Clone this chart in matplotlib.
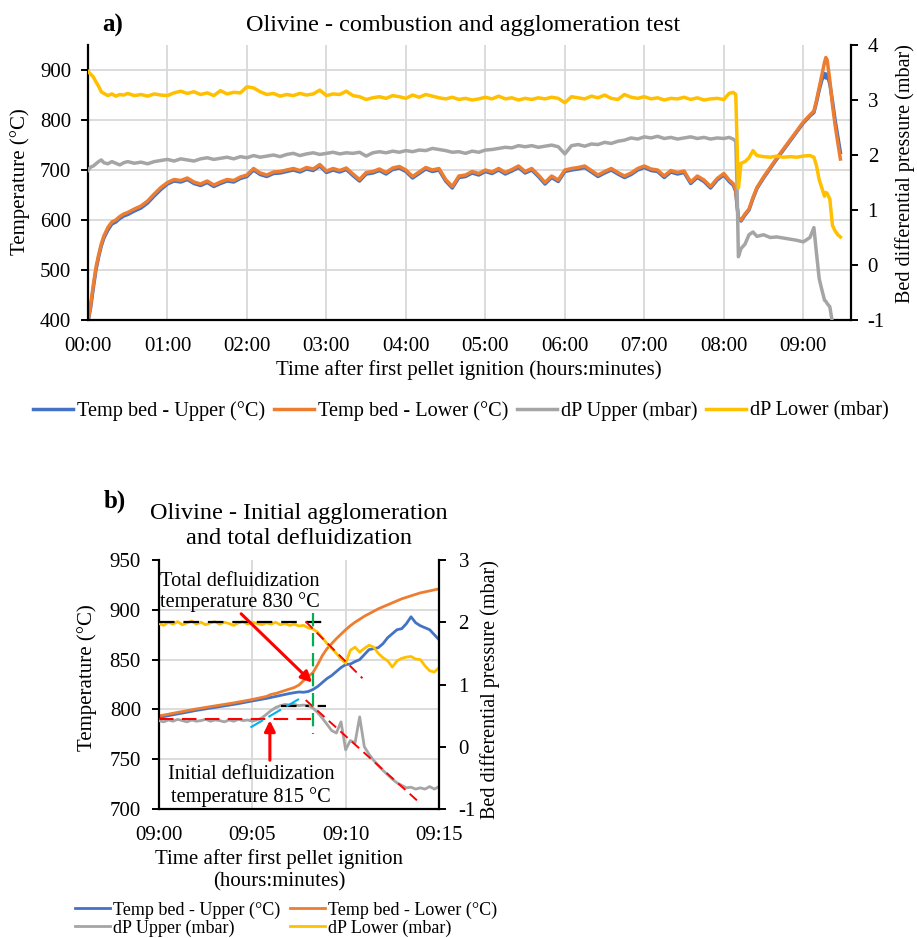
import numpy as np
import matplotlib.pyplot as plt

plt.rcParams['font.family'] = ['Liberation Serif', 'DejaVu Serif']
plt.rcParams['axes.unicode_minus'] = False

# ---------------- panel a: whole test (time in minutes after ignition) ----------------
t_a = [0, 2, 4, 6, 8, 10, 12, 15, 18, 21, 24, 27,
       30, 35, 40, 45, 50, 55, 60, 65, 70, 75, 80, 85, 90,
       95, 100, 105, 110, 115, 120, 125, 130, 135, 140, 145, 150, 155,
       160, 165, 170, 175, 180, 185, 190, 195, 200, 205, 210, 215, 220,
       225, 230, 235, 240, 245, 250, 255, 260, 265, 270, 275, 280, 285,
       290, 295, 300, 305, 310, 315, 320, 325, 330, 335, 340, 345, 350,
       355, 360, 365, 370, 375, 380, 385, 390, 395, 400, 405, 410, 415,
       420, 425, 430, 435, 440, 445, 450, 455, 460, 465, 470, 475, 480,
       484, 487, 489, 490, 491, 493, 496, 499, 502, 505,
       510, 515, 520, 525, 530, 535, 540, 545,
       548, 550, 552, 554, 556, 557, 558, 560, 562, 564, 566, 568]

temp_upper_a = [396, 425, 464, 500, 526, 548, 564, 580, 592, 596, 603, 608,
                611, 618, 624, 634, 648, 661, 672, 678, 676, 681, 673, 669, 675,
                667, 673, 678, 676, 683, 687, 700, 691, 687, 693, 694, 697, 700,
                696, 702, 699, 708, 695, 700, 696, 701, 689, 678, 692, 694, 699,
                692, 701, 704, 697, 684, 693, 702, 697, 700, 678, 664, 685, 687,
                694, 690, 697, 693, 700, 692, 698, 705, 694, 700, 687, 672, 685,
                677, 697, 700, 702, 705, 696, 687, 694, 700, 692, 685, 691, 700,
                705, 699, 697, 685, 696, 692, 695, 673, 685, 677, 664, 680, 690,
                677, 670, 657, 628, 603, 598, 610, 620, 643, 663,
                684, 703, 722, 740, 758, 776, 794, 808,
                815, 836, 860, 880, 893, 884, 892, 872, 838, 800, 768, 735]

temp_lower_a = [398, 430, 470, 505, 530, 552, 568, 585, 596, 600, 607, 612,
                615, 622, 628, 638, 652, 665, 675, 681, 679, 684, 676, 672, 678,
                670, 676, 681, 679, 686, 690, 703, 694, 690, 696, 697, 700, 703,
                699, 705, 702, 711, 698, 703, 699, 704, 692, 681, 695, 697, 702,
                695, 704, 707, 700, 687, 696, 705, 700, 703, 681, 667, 688, 690,
                697, 693, 700, 696, 703, 695, 701, 708, 697, 703, 690, 675, 688,
                680, 700, 703, 705, 708, 699, 690, 697, 703, 695, 688, 694, 703,
                708, 702, 700, 688, 699, 695, 698, 676, 688, 680, 667, 683, 693,
                680, 673, 660, 630, 605, 600, 612, 622, 645, 665,
                686, 705, 724, 742, 760, 778, 796, 810,
                818, 840, 865, 890, 915, 925, 920, 880, 830, 790, 755, 722]

dp_upper_a = [1.72, 1.78, 1.80, 1.84, 1.88, 1.91, 1.86, 1.84, 1.88, 1.85, 1.82, 1.86,
              1.88, 1.85, 1.87, 1.84, 1.88, 1.90, 1.92, 1.89, 1.93, 1.91, 1.89, 1.93, 1.95,
              1.92, 1.94, 1.96, 1.93, 1.97, 1.95, 1.99, 1.96, 1.98, 2.00, 1.97, 2.01, 2.03,
              1.99, 2.02, 2.04, 2.01, 2.03, 2.05, 2.02, 2.04, 2.03, 2.05, 1.98, 2.04, 2.06,
              2.04, 2.07, 2.05, 2.08, 2.06, 2.09, 2.08, 2.12, 2.10, 2.08, 2.05, 2.06, 2.03,
              2.07, 2.05, 2.09, 2.10, 2.12, 2.14, 2.13, 2.17, 2.15, 2.17, 2.14, 2.16, 2.18,
              2.15, 2.02, 2.17, 2.19, 2.16, 2.20, 2.19, 2.23, 2.21, 2.25, 2.27, 2.31, 2.29,
              2.33, 2.31, 2.34, 2.30, 2.32, 2.29, 2.31, 2.33, 2.30, 2.32, 2.29, 2.31, 2.30,
              2.32, 2.29, 2.25, 1.40, 0.15, 0.30, 0.38, 0.55, 0.60, 0.52,
              0.55, 0.50, 0.51, 0.49, 0.47, 0.45, 0.42, 0.50,
              0.68, 0.20, -0.25, -0.45, -0.64, -0.66, -0.70, -0.76, -1.05, -1.30, np.nan, np.nan]

dp_lower_a = [3.52, 3.47, 3.42, 3.33, 3.25, 3.15, 3.12, 3.08, 3.11, 3.07, 3.10, 3.09,
              3.12, 3.08, 3.10, 3.07, 3.11, 3.09, 3.08, 3.13, 3.16, 3.12, 3.15, 3.10, 3.13,
              3.08, 3.17, 3.11, 3.14, 3.13, 3.24, 3.22, 3.15, 3.10, 3.12, 3.07, 3.10, 3.08,
              3.12, 3.09, 3.11, 3.18, 3.08, 3.11, 3.10, 3.16, 3.08, 3.06, 3.01, 3.04, 3.06,
              3.03, 3.08, 3.06, 3.03, 3.09, 3.05, 3.10, 3.07, 3.04, 3.02, 3.05, 3.01, 3.03,
              3.00, 3.02, 3.05, 3.02, 3.07, 3.02, 3.04, 3.00, 3.03, 3.01, 3.04, 3.02, 3.05,
              3.03, 2.95, 3.06, 3.04, 3.02, 3.07, 3.04, 3.09, 3.03, 3.01, 3.10, 3.05, 3.03,
              3.06, 3.02, 3.04, 3.00, 3.03, 3.02, 3.05, 3.01, 3.04, 3.00, 3.02, 3.03, 3.01,
              3.12, 3.14, 3.10, 2.20, 1.40, 1.85, 1.88, 1.95, 2.08, 1.99,
              1.97, 1.96, 1.98, 1.96, 1.97, 1.96, 1.98, 1.99,
              1.96, 1.80, 1.55, 1.40, 1.25, 1.32, 1.30, 1.20, 0.72, 0.62, 0.55, 0.51]

hour_ticks = [0, 60, 120, 180, 240, 300, 360, 420, 480, 540]
hour_labels = ['00:00', '01:00', '02:00', '03:00', '04:00',
               '05:00', '06:00', '07:00', '08:00', '09:00']

# ---------------- panel b: zoom 09:00-09:15 (minutes after 09:00) ----------------
t_b = [0, 0.25, 0.5, 0.75, 1, 1.25, 1.5, 1.75, 2, 2.25, 2.5, 2.75,
       3, 3.25, 3.5, 3.75, 4, 4.25, 4.5, 4.75, 5, 5.25, 5.5, 5.75,
       6, 6.25, 6.5, 6.75, 7, 7.25, 7.5, 7.75, 8, 8.25, 8.5, 8.75,
       9, 9.25, 9.5, 9.75, 10, 10.25, 10.5, 10.75, 11, 11.25, 11.5, 11.75,
       12, 12.25, 12.5, 12.75, 13, 13.25, 13.5, 13.75, 14, 14.25, 14.5, 14.75,
       15]

temp_upper_b = [792.0, 792.8, 793.7, 794.6, 795.5, 796.3, 797.2, 798.1, 799.0, 799.7, 800.5, 801.3,
                802.0, 802.8, 803.5, 804.3, 805.0, 805.8, 806.7, 807.6, 808.5, 809.3, 810.2, 811.0,
                812.0, 813.0, 814.0, 815.0, 816.0, 816.8, 817.5, 817.2, 818.0, 820.0, 823.0, 827.0,
                831, 834, 838, 842, 845, 845.5, 848, 850, 855, 860, 861, 862,
                866, 872, 876, 880, 881, 886, 893, 887, 884, 882, 880, 875,
                870]

temp_lower_b = [793.5, 794.3, 795.2, 796.1, 797.0, 797.8, 798.7, 799.6, 800.5, 801.2, 802.0, 802.8,
                803.5, 804.3, 805.0, 805.8, 806.5, 807.4, 808.2, 809.1, 810.0, 811.0, 812.0, 813.0,
                815.0, 816.0, 817.5, 819.0, 820.5, 822.0, 824.5, 829.0, 833.0, 837.0, 845.0, 854.0,
                861, 866, 871, 875.5, 880, 884, 887.5, 890.5, 893.5, 896, 898.5, 901,
                903, 905, 907, 909, 911, 912.5, 914, 915.5, 917, 918, 919, 920,
                921]

dp_upper_b = [0.42, 0.40, 0.43, 0.41, 0.44, 0.42, 0.40, 0.43, 0.41, 0.42, 0.44, 0.41,
              0.43, 0.42, 0.40, 0.43, 0.41, 0.44, 0.42, 0.43, 0.41, 0.43, 0.46, 0.52,
              0.58, 0.63, 0.66, 0.68, 0.67, 0.68, 0.66, 0.67, 0.66, 0.62, 0.55, 0.46,
              0.36, 0.26, 0.22, 0.40, -0.05, 0.10, 0.06, 0.48, 0.00, -0.12, -0.22, -0.30,
              -0.38, -0.45, -0.52, -0.58, -0.62, -0.66, -0.65, -0.68, -0.66, -0.68, -0.64, -0.68,
              -0.64]

dp_lower_b = [1.98, 1.95, 2.00, 1.97, 2.01, 1.96, 1.99, 2.02, 1.97, 2.00, 1.96, 1.99,
              2.01, 1.97, 2.00, 1.98, 1.95, 1.99, 2.01, 1.97, 2.00, 1.98, 1.96, 1.99,
              1.97, 2.00, 1.96, 1.98, 1.95, 1.97, 1.94, 1.95, 1.91, 1.89, 1.84, 1.75,
              1.66, 1.58, 1.50, 1.41, 1.34, 1.55, 1.60, 1.52, 1.58, 1.63, 1.60, 1.50,
              1.43, 1.38, 1.28, 1.38, 1.42, 1.44, 1.45, 1.41, 1.40, 1.30, 1.22, 1.20,
              1.27]

minute_ticks = [0, 5, 10, 15]
minute_labels = ['09:00', '09:05', '09:10', '09:15']

series_names = ['Temp bed - Upper (°C)', 'Temp bed - Lower (°C)',
                'dP Upper (mbar)', 'dP Lower (mbar)']

BLUE = '#4472C4'
ORANGE = '#ED7D31'
GRAY = '#A5A5A5'
YELLOW = '#FFC000'
GRID = '#D9D9D9'

W, H = 917, 938
fig = plt.figure(figsize=(W / 100, H / 100), dpi=100)


def fx(x):
    return x / W


def fy(y):
    return 1 - y / H


def style_axes(ax, ax2, fs):
    for s in ['top', 'right']:
        ax.spines[s].set_visible(False)
    for s in ['top', 'left', 'bottom']:
        ax2.spines[s].set_visible(False)
    for s in ['left', 'bottom']:
        ax.spines[s].set_linewidth(1.6)
        ax.spines[s].set_color('black')
    ax2.spines['right'].set_linewidth(1.6)
    ax2.spines['right'].set_color('black')
    ax.grid(True, color=GRID, lw=1.3)
    ax.set_axisbelow(True)
    ax.tick_params(axis='y', direction='out', length=5, width=1.4, pad=7, labelsize=fs)
    ax.tick_params(axis='x', length=0, pad=12, labelsize=fs)
    ax2.tick_params(axis='y', direction='out', length=5, width=1.4, pad=7, labelsize=fs)


# ---------------- panel a ----------------
ax = fig.add_axes([fx(88), fy(320), (851 - 88) / W, (320 - 45) / H])
ax2 = ax.twinx()
l1, = ax.plot(t_a, temp_upper_a, color=BLUE, lw=2.5)
l2, = ax.plot(t_a, temp_lower_a, color=ORANGE, lw=2.5)
l3, = ax2.plot(t_a, dp_upper_a, color=GRAY, lw=2.5)
l4, = ax2.plot(t_a, dp_lower_a, color=YELLOW, lw=2.5)
ax.set_xlim(0, 576)
ax.set_ylim(400, 950)
ax.set_yticks([400, 500, 600, 700, 800, 900])
ax2.set_ylim(-1, 4)
ax2.set_yticks([-1, 0, 1, 2, 3, 4])
ax.set_xticks(hour_ticks)
ax.set_xticklabels(hour_labels)
style_axes(ax, ax2, 15)

fig.text(fx(113), fy(25), 'a)', fontsize=18, fontweight='bold', ha='center', va='center')
fig.text(fx(463), fy(25), 'Olivine - combustion and agglomeration test',
         fontsize=17.5, ha='center', va='center')
fig.text(fx(20), fy(182), 'Temperature (°C)', rotation=90, fontsize=15,
         ha='center', va='center')
fig.text(fx(905), fy(174), 'Bed differential pressure (mbar)', rotation=90,
         fontsize=14.5, ha='center', va='center')
fig.text(fx(469), fy(370), 'Time after first pellet ignition (hours:minutes)',
         fontsize=15, ha='center', va='center')
fig.legend([l1, l2, l3, l4], series_names, ncol=4, loc='center',
           bbox_to_anchor=(fx(461), fy(411)), frameon=False, fontsize=14.6,
           handlelength=1.95, handletextpad=0.2, columnspacing=0.45,
           borderaxespad=0, borderpad=0)

# ---------------- panel b ----------------
axb = fig.add_axes([fx(159), fy(809), (439 - 159) / W, (809 - 560) / H])
axb2 = axb.twinx()
m1, = axb.plot(t_b, temp_upper_b, color=BLUE, lw=2.0)
m2, = axb.plot(t_b, temp_lower_b, color=ORANGE, lw=2.0)
m3, = axb2.plot(t_b, dp_upper_b, color=GRAY, lw=2.0)
m4, = axb2.plot(t_b, dp_lower_b, color=YELLOW, lw=2.0)
axb.set_xlim(0, 15)
axb.set_ylim(700, 950)
axb.set_yticks([700, 750, 800, 850, 900, 950])
axb2.set_ylim(-1, 3)
axb2.set_yticks([-1, 0, 1, 2, 3])
axb.set_xticks(minute_ticks)
axb.set_xticklabels(minute_labels)
style_axes(axb, axb2, 15)
axb.tick_params(axis='y', pad=8)
axb2.tick_params(axis='y', pad=9)
axb.yaxis.get_gridlines()[-1].set_visible(False)

# construction lines (pressure axis)
dash = (0, (5, 3))
axb2.plot([0, 8.75], [2.0, 2.0], color='black', lw=1.6, ls=(0, (7, 4)))
axb2.plot([7.86, 10.9], [2.01, 1.10], color='#FF0000', lw=1.4, ls=dash)
axb2.plot([6.52, 8.97], [0.66, 0.66], color='black', lw=1.6, ls=(0, (7, 4, 1.5, 4)))
axb2.plot([0, 8.2], [0.45, 0.45], color='#FF0000', lw=1.5, ls=(0, (7, 4)))
axb2.plot([4.9, 7.63], [0.31, 0.79], color='#00B0F0', lw=1.5, ls=(0, (7, 3)))
axb2.plot([7.86, 14.0], [0.75, -0.91], color='#FF0000', lw=1.4, ls=dash)
axb2.plot([8.27, 8.27], [2.15, 0.20], color='#00B050', lw=1.6, ls=(0, (6, 3)))

arrow = dict(arrowstyle='-|>', color='#FF0000', lw=2.2, mutation_scale=16,
             shrinkA=0, shrinkB=0)
axb2.annotate('', xy=(8.2, 827), xytext=(4.4, 896), xycoords=axb.transData,
              textcoords=axb.transData, arrowprops=arrow)
axb2.annotate('', xy=(5.94, 789), xytext=(5.94, 749), xycoords=axb.transData,
              textcoords=axb.transData, arrowprops=arrow)

axb2.text(0.08, 918, 'Total defluidization\ntemperature 830 °C', transform=axb.transData,
          fontsize=14.7, ha='left', va='center', linespacing=1.1)
axb2.text(4.92, 723, 'Initial defluidization\ntemperature 815 °C', transform=axb.transData,
          fontsize=14.7, ha='center', va='center', linespacing=1.25)

fig.text(fx(115), fy(501), 'b)', fontsize=18, fontweight='bold', ha='center', va='center')
fig.text(fx(299), fy(526), 'Olivine - Initial agglomeration\nand total defluidization',
         fontsize=17.5, ha='center', va='center', linespacing=1.2)
fig.text(fx(87), fy(678), 'Temperature (°C)', rotation=90, fontsize=15,
         ha='center', va='center')
fig.text(fx(490), fy(690), 'Bed differential pressure (mbar)', rotation=90,
         fontsize=14.5, ha='center', va='center')
fig.text(fx(279), fy(870), 'Time after first pellet ignition\n(hours:minutes)',
         fontsize=15, ha='center', va='center', linespacing=1.25)
fig.legend([m1, m3, m2, m4], [series_names[0], series_names[2], series_names[1], series_names[3]],
           ncol=2, loc='center', bbox_to_anchor=(fx(286), fy(919)), frameon=False,
           fontsize=13, handlelength=1.95, handletextpad=0.15, columnspacing=0.55,
           labelspacing=0.05, borderaxespad=0, borderpad=0)

fig.savefig('out.png', dpi=100)
